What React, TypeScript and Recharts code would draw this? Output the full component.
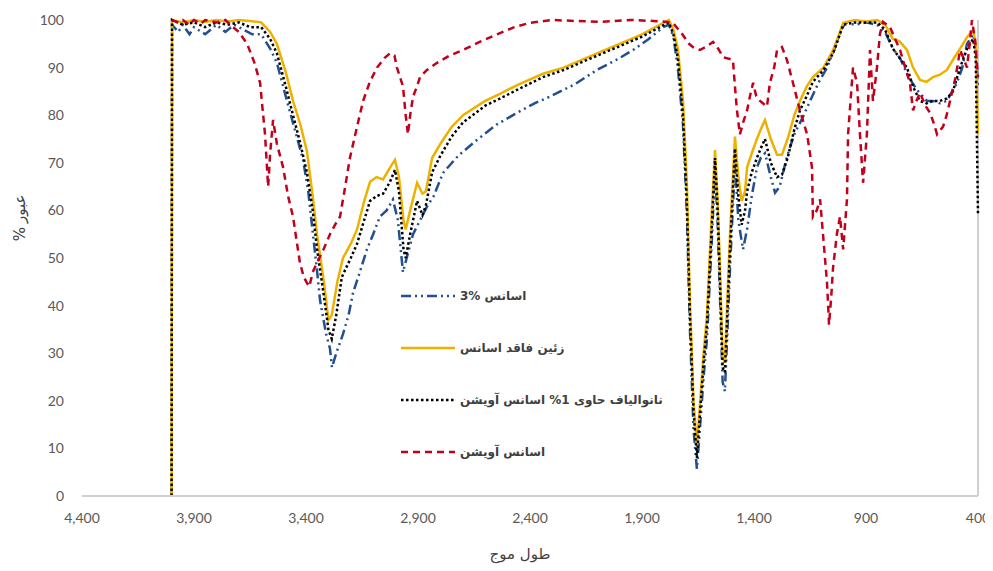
import { LineChart, Line, XAxis, YAxis, ReferenceLine, Legend } from 'recharts';

// tick labels
const xTicks = [4400, 3900, 3400, 2900, 2400, 1900, 1400, 900, 400];
const yTicks = [0, 10, 20, 30, 40, 50, 60, 70, 80, 90, 100];

// series names (legend)
const seriesNames = [
  'اسانس %3',
  'زئین فاقد اسانس',
  'نانوالیاف حاوی 1% اسانس آویشن',
  'اسانس آویشن',
];
const xTitle = 'طول موج';
const yTitleWords = ['%', 'عبور'];

// blue - 3% essence
const blueWn = [4000, 3998, 3970, 3950, 3920, 3900, 3850, 3800, 3760, 3720, 3680, 3640, 3600, 3560, 3530, 3485, 3450, 3413, 3390, 3369, 3350, 3337, 3310, 3293, 3284, 3265, 3235, 3210, 3190, 3160, 3128, 3100, 3070, 3040, 3012, 2990, 2967, 2945, 2922, 2890, 2860, 2830, 2788, 2720, 2637, 2550, 2458, 2380, 2311, 2200, 2101, 2000, 1940, 1870, 1806, 1780, 1760, 1740, 1717, 1700, 1686, 1670, 1655, 1640, 1625, 1610, 1590, 1574, 1562, 1552, 1540, 1530, 1520, 1507, 1485, 1470, 1449, 1431, 1410, 1387, 1370, 1351, 1325, 1306, 1285, 1253, 1220, 1181, 1140, 1110, 1074, 1040, 1010, 990, 950, 900, 850, 815, 780, 748, 710, 672, 628, 600, 570, 539, 494, 470, 449, 422, 410, 400];
const blueT = [0, 99, 97.5, 99, 97, 98.5, 97, 99, 97.5, 99, 98, 97, 97, 94, 91, 83, 77, 70.6, 64, 55, 47, 41, 34, 31, 27, 30, 34, 38, 42.7, 47, 51.8, 55, 58.7, 60, 62.3, 58, 47, 51, 55, 58, 60.8, 63, 67.9, 71.5, 74.8, 78, 80.5, 82.5, 83.9, 86.5, 89.5, 92, 93.7, 96, 98.5, 99, 96.5, 90, 78, 60, 35, 14, 5.7, 15, 25, 33, 52, 69, 57, 42, 24, 22, 33, 48, 70, 58, 51.8, 56, 63, 69, 71, 72, 67, 63.7, 65, 71.3, 76, 79.7, 84, 87, 90, 94, 98, 99.5, 99, 99.5, 99, 97.5, 94, 92, 88, 85.3, 83, 83, 82.5, 83, 86.8, 90, 95, 97, 94, 86];

// yellow - zein without essence
const yellowWn = [4000, 3998, 3950, 3900, 3850, 3800, 3750, 3700, 3650, 3600, 3560, 3530, 3490, 3458, 3425, 3396, 3370, 3351, 3320, 3300, 3285, 3260, 3235, 3200, 3172, 3140, 3114, 3085, 3056, 3025, 3003, 2985, 2965, 2955, 2935, 2904, 2880, 2865, 2837, 2800, 2750, 2699, 2600, 2534, 2450, 2342, 2250, 2101, 2000, 1900, 1800, 1780, 1760, 1740, 1717, 1700, 1686, 1670, 1655, 1640, 1625, 1610, 1590, 1574, 1562, 1552, 1540, 1530, 1520, 1507, 1485, 1470, 1455, 1440, 1431, 1410, 1387, 1370, 1351, 1325, 1297, 1275, 1250, 1220, 1195, 1165, 1137, 1090, 1047, 1020, 1002, 950, 900, 850, 815, 780, 750, 717, 690, 659, 630, 601, 570, 539, 512, 480, 449, 422, 410, 400];
const yellowT = [0, 100, 99.5, 100, 99.6, 100, 99.7, 100, 99.8, 99.5, 97.5, 95, 89, 83, 78, 72.5, 63, 55, 45, 37, 38, 45, 50, 53, 56, 62, 66, 67, 66.5, 69, 70.6, 67, 58, 56, 60, 65.8, 63.5, 64, 71, 74, 77.5, 80, 83, 84.5, 86.5, 88.7, 90, 93, 95, 97, 99.5, 100, 98, 94, 83, 66, 41, 20, 10.5, 20, 30, 38, 58, 72.7, 62, 48, 29, 28, 40, 55, 75.5, 67, 62, 64, 69, 72, 75, 77, 79, 75, 71.7, 71.7, 75, 80, 83, 86, 88, 90, 93.7, 97, 99.4, 100, 99.7, 100, 99, 96, 95.5, 93.7, 90, 87.4, 87, 88, 88.5, 89.5, 91.6, 94, 96.4, 97.9, 95, 76];

// black dotted - nanofibres with 1% thyme essence
const blackWn = [4000, 3998, 3950, 3900, 3850, 3800, 3750, 3700, 3650, 3600, 3560, 3530, 3490, 3458, 3425, 3396, 3370, 3351, 3320, 3300, 3285, 3265, 3240, 3200, 3172, 3140, 3114, 3085, 3056, 3025, 3003, 2985, 2965, 2955, 2935, 2904, 2880, 2865, 2837, 2800, 2750, 2699, 2600, 2534, 2450, 2342, 2250, 2101, 2000, 1900, 1800, 1780, 1760, 1740, 1717, 1700, 1686, 1670, 1655, 1640, 1625, 1610, 1590, 1574, 1562, 1552, 1540, 1530, 1520, 1507, 1485, 1470, 1455, 1440, 1431, 1410, 1387, 1370, 1351, 1325, 1297, 1275, 1250, 1220, 1195, 1165, 1137, 1090, 1047, 1020, 1002, 950, 900, 850, 815, 780, 750, 717, 690, 659, 630, 601, 570, 539, 512, 480, 449, 422, 410, 400];
const blackT = [0, 100, 99, 99.5, 98.5, 99.5, 99, 99.5, 98.5, 98.5, 96, 93, 86, 80, 74, 68, 60, 52, 42, 35, 33, 38, 46, 50, 53, 58, 62, 63, 63.5, 66, 68.5, 64, 52, 50, 55, 62, 59, 61, 68, 71.5, 75.5, 78.5, 82, 83.5, 85.5, 88, 89.5, 92.5, 94.5, 96.5, 99, 99.5, 97, 92, 80, 62, 38, 18, 8, 18, 28, 36, 55, 71, 60, 45, 27, 26, 37, 52, 73, 63, 57, 60, 64, 68, 71, 73, 75, 70, 67, 67.5, 71, 77, 81, 84, 87, 89.5, 93, 96.5, 99, 99.5, 99.5, 99.5, 98, 94, 92, 90, 86, 83, 82.5, 83, 83, 83.5, 85, 90, 94, 96, 92, 59];

// red dashed - thyme essence
const redWn = [4000, 3970, 3950, 3920, 3900, 3870, 3850, 3800, 3760, 3726, 3700, 3663, 3630, 3605, 3583, 3569, 3560, 3547, 3530, 3502, 3480, 3458, 3440, 3427, 3410, 3396, 3385, 3370, 3351, 3320, 3293, 3270, 3248, 3225, 3204, 3175, 3145, 3115, 3083, 3050, 3025, 3005, 2994, 2980, 2967, 2955, 2945, 2935, 2922, 2905, 2891, 2860, 2815, 2760, 2699, 2620, 2547, 2470, 2400, 2300, 2200, 2087, 1950, 1850, 1788, 1762, 1720, 1690, 1672, 1641, 1610, 1583, 1560, 1538, 1494, 1485, 1476, 1463, 1445, 1431, 1418, 1404, 1390, 1373, 1342, 1329, 1310, 1297, 1275, 1253, 1226, 1195, 1163, 1141, 1137, 1120, 1105, 1092, 1074, 1065, 1055, 1047, 1030, 1016, 1002, 985, 980, 958, 940, 927, 913, 896, 882, 869, 851, 838, 824, 793, 770, 748, 725, 704, 690, 675, 659, 635, 614, 595, 583, 556, 540, 525, 500, 480, 465, 449, 435, 427, 413, 400];
const redT = [100, 99.5, 100, 99, 100, 99.2, 100, 99.5, 100, 98.5, 97.5, 95, 91, 86.8, 76, 65, 72, 79, 74, 69, 63, 58.7, 53, 49, 46, 44.8, 44, 47, 49, 52, 55, 57, 58.7, 65, 71, 77, 83, 87, 90, 92, 93, 92.5, 90, 88, 86, 80, 76, 80, 83.9, 86, 88, 89.5, 91, 92.5, 93.7, 95.5, 97, 98.5, 99.4, 100, 99.8, 99.6, 100, 99.8, 99.6, 99.4, 97, 95, 94.3, 93.7, 94.5, 95.4, 94, 92.2, 91.6, 86, 81, 76, 79, 81, 84, 86.8, 84, 83, 81.8, 86.8, 90, 93.7, 94.3, 91.6, 86.8, 81, 76, 69, 58.7, 60, 62.3, 55, 44.8, 36, 42, 48, 55, 58.7, 51.8, 62.3, 76, 90, 86.8, 76, 65.8, 76, 93.7, 83, 90, 97, 99.6, 98.5, 96, 93.7, 90, 86.8, 81, 83, 84.7, 82, 80.5, 78, 76, 77.6, 80, 83, 88, 93.7, 92, 90, 96, 100, 95.8, 88];

const toPoints = (wn: number[], t: number[]) => wn.map((x, i) => ({ x, t: t[i] }));

const series = [
  { name: seriesNames[0], data: toPoints(blueWn, blueT), color: '#22508f', dash: '10 4 2 4 2 4' },
  { name: seriesNames[1], data: toPoints(yellowWn, yellowT), color: '#edb200', dash: undefined },
  { name: seriesNames[2], data: toPoints(blackWn, blackT), color: '#000000', dash: '2.5 2.5' },
  { name: seriesNames[3], data: toPoints(redWn, redT), color: '#c3001b', dash: '7 5' },
];

const persianFont = '"DejaVu Sans", sans-serif';
const tickStyle = { fill: '#595959', fontSize: 14, fontFamily: 'Lato, "DejaVu Sans", sans-serif' };

function LegendBox() {
  return (
    <div style={{ fontFamily: persianFont, fontSize: 12, fontWeight: 'bold', color: '#404040' }}>
      {series.map((s) => (
        <div key={s.name} style={{ display: 'flex', alignItems: 'center', height: 52 }}>
          <svg width={56} height={8} style={{ marginRight: 4 }}>
            <line x1={1} y1={4} x2={55} y2={4} stroke={s.color} strokeWidth={2.5} strokeDasharray={s.dash} />
          </svg>
          <span dir="rtl" style={{ whiteSpace: 'nowrap', unicodeBidi: 'isolate' }}>{s.name}</span>
        </div>
      ))}
    </div>
  );
}

function YTitle(props: any) {
  const { viewBox } = props;
  const cx = viewBox.x + 12;
  const cy = viewBox.y + 205;
  return (
    <g transform={`rotate(-90 ${cx} ${cy})`} fontFamily={persianFont} fontSize={15} fill="#404040">
      <text x={cx - 2} y={cy} textAnchor="end" dominantBaseline="central">{yTitleWords[0]}</text>
      <text x={cx + 2} y={cy} textAnchor="start" dominantBaseline="central">{yTitleWords[1]}</text>
    </g>
  );
}

export default function App() {
  return (
    <div style={{ width: 985, height: 563, background: '#fff' }}>
      <LineChart width={985} height={563} margin={{ top: 12, right: 15, bottom: 0, left: 0 }}>
        <XAxis
          type="number"
          dataKey="x"
          domain={[400, 4400]}
          reversed
          ticks={xTicks}
          tickFormatter={(v: number) => v.toLocaleString('en-US')}
          tick={tickStyle}
          tickLine={false}
          tickSize={0}
          tickMargin={17}
          height={75}
          axisLine={{ stroke: '#d0d0d0', strokeWidth: 2 }}
          label={{ value: xTitle, position: 'insideBottom', offset: 12, dx: -10, fill: '#404040', fontSize: 15, fontFamily: persianFont }}
        />
        <YAxis
          type="number"
          domain={[0, 100]}
          ticks={yTicks}
          tick={tickStyle}
          tickLine={false}
          tickSize={0}
          tickMargin={18}
          width={74}
          axisLine={false}
          label={<YTitle />}
        />
        <ReferenceLine x={400} stroke="#d0d0d0" strokeWidth={2} />
        {series.map((s) => (
          <Line
            key={s.name}
            data={s.data}
            dataKey="t"
            name={s.name}
            type="linear"
            stroke={s.color}
            strokeWidth={2.5}
            strokeDasharray={s.dash}
            dot={false}
            isAnimationActive={false}
          />
        ))}
        <Legend
          layout="vertical"
          align="center"
          verticalAlign="middle"
          content={<LegendBox />}
          wrapperStyle={{ left: 392, top: 262, width: 320 }}
        />
      </LineChart>
    </div>
  );
}
